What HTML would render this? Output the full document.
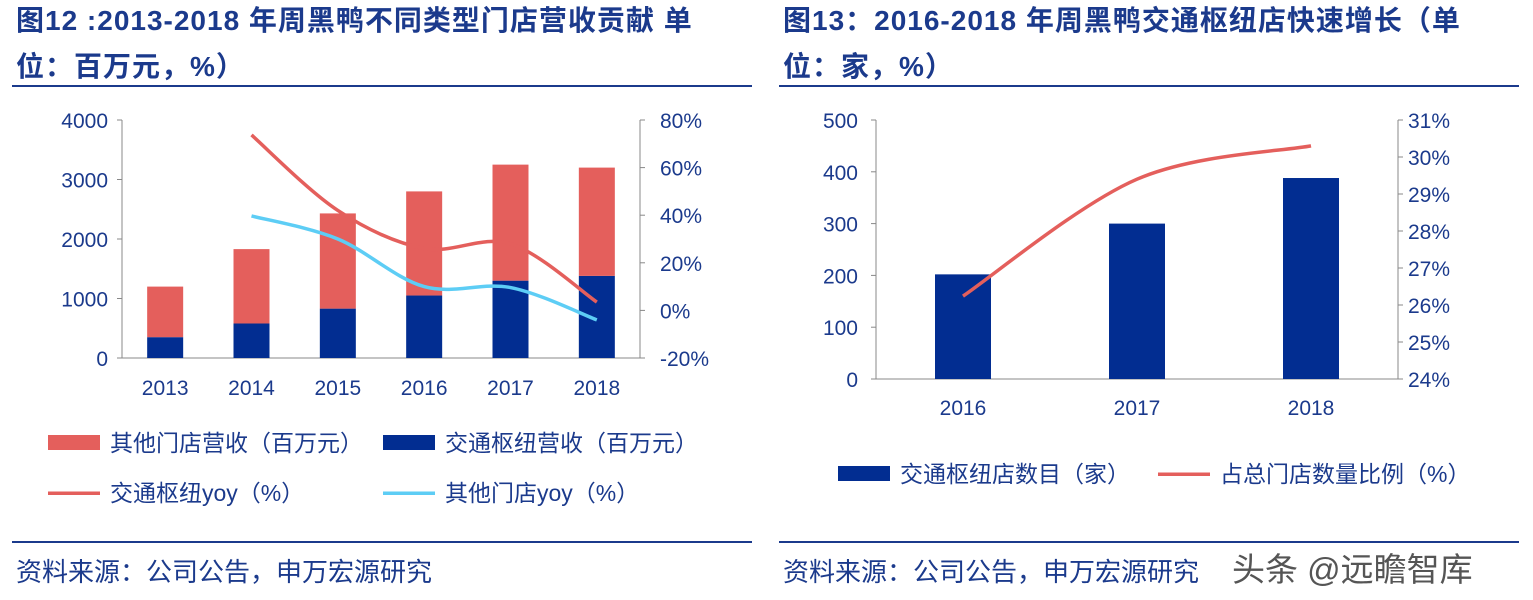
<!DOCTYPE html>
<html><head><meta charset="utf-8"><style>
body{margin:0;width:1533px;height:600px;background:#fff;overflow:hidden;font-family:"Liberation Sans","Noto Sans CJK SC",sans-serif}
svg{position:absolute;left:0;top:0}
</style></head><body>
<svg id="s" width="1533" height="600" font-family="Liberation Sans, Noto Sans CJK SC, sans-serif">
<g fill="#1b3a8c" font-weight="bold" font-size="28" letter-spacing="1">
<text x="16" y="30">图12 :2013-2018 年周黑鸭不同类型门店营收贡献 单</text>
<text x="16" y="76">位：百万元，%）</text></g>
<g fill="#1b3a8c" font-weight="bold" font-size="28" letter-spacing="1">
<text x="783" y="30">图13：2016-2018 年周黑鸭交通枢纽店快速增长（单</text>
<text x="783" y="76">位：家，%）</text></g>
<rect x="12" y="85" width="740" height="2" fill="#1b3a8c"/>
<rect x="779" y="85" width="740" height="2" fill="#1b3a8c"/>
<rect x="12" y="541" width="740" height="2" fill="#1b3a8c"/>
<rect x="779" y="541" width="740" height="2" fill="#1b3a8c"/>
<text x="16" y="581" font-size="26" fill="#1b3a8c">资料来源：公司公告，申万宏源研究</text>
<text x="783" y="581" font-size="26" fill="#1b3a8c">资料来源：公司公告，申万宏源研究</text>
<text x="1232" y="581" font-size="33" fill="#555">头条 @远瞻智库</text>
<g id="L"></g><g id="R"></g>
</svg>
<script>
const yearsL=['2013','2014','2015','2016','2017','2018'];
const hubRev=[350,580,830,1050,1300,1380];
const otherRev=[850,1250,1600,1750,1950,1820];
const hubYoy=[null,73.7,42,26,28,3.5];
const otherYoy=[null,39.7,30,10,9.6,-4];
const leftTicks=[0,1000,2000,3000,4000];
const leftPctTicks=[-20,0,20,40,60,80];
const yearsR=['2016','2017','2018'];
const hubStores=[202,300,388];
const hubShare=[26.24,29.4,30.3];
const rightTicks=[0,100,200,300,400,500];
const rightPctTicks=[24,25,26,27,28,29,30,31];
const NS='http://www.w3.org/2000/svg',C='#1b3a8c';
function el(p,t,a,txt){const e=document.createElementNS(NS,t);for(const k in a)e.setAttribute(k,a[k]);if(txt!=null)e.textContent=txt;p.appendChild(e);return e;}
function smooth(pts){let d='M'+pts[0][0]+','+pts[0][1];for(let i=0;i<pts.length-1;i++){const p0=pts[i-1]||pts[i],p1=pts[i],p2=pts[i+1],p3=pts[i+2]||p2;d+=` C${p1[0]+(p2[0]-p0[0])/6},${p1[1]+(p2[1]-p0[1])/6} ${p2[0]-(p3[0]-p1[0])/6},${p2[1]-(p3[1]-p1[1])/6} ${p2[0]},${p2[1]}`;}return d;}
const L=document.getElementById('L');
const lx0=122,lx1=640,ly0=358,ly1=120;
const ly=v=>ly0-(v/4000)*(ly0-ly1);
const lp=v=>ly0-((v+20)/100)*(ly0-ly1);
const lxc=i=>lx0+(lx1-lx0)*(i+0.5)/yearsL.length;
el(L,'line',{x1:lx0,y1:ly1,x2:lx0,y2:ly0,stroke:'#888',});
el(L,'line',{x1:lx1,y1:ly1,x2:lx1,y2:ly0,stroke:'#888',});
el(L,'line',{x1:lx0,y1:ly0,x2:lx1,y2:ly0,stroke:'#888',});
leftTicks.forEach(t=>{el(L,'line',{x1:lx0-5,x2:lx0,y1:ly(t),y2:ly(t),stroke:'#888'});const e=el(L,'text',{x:lx0-14,y:ly(t)+8,'text-anchor':'end','font-size':21,fill:C},t);});
leftPctTicks.forEach(t=>{el(L,'line',{x1:lx1,x2:lx1+5,y1:lp(t),y2:lp(t),stroke:'#888'});const e=el(L,'text',{x:lx1+20,y:lp(t)+8,'font-size':21,fill:C},t+'%');});
yearsL.forEach((y,i)=>{const cx=lxc(i),w=36;
const a=el(L,'rect',{x:cx-w/2,y:ly(hubRev[i]),width:w,height:ly0-ly(hubRev[i]),fill:'#022d91'});
const b=el(L,'rect',{x:cx-w/2,y:ly(hubRev[i]+otherRev[i]),width:w,height:ly(hubRev[i])-ly(hubRev[i]+otherRev[i]),fill:'#e45f5c'});
const t=el(L,'text',{x:cx,y:395,'text-anchor':'middle','font-size':21,fill:C},y);});
[[hubYoy,'#e45f5c','line-hub-yoy'],[otherYoy,'#5dcdf5','line-other-yoy']].forEach(([s,c,n])=>{const pts=[];s.forEach((v,i)=>{if(v!=null)pts.push([lxc(i),lp(v)]);});const p=el(L,'path',{d:smooth(pts),fill:'none',stroke:c,'stroke-width':3.5});});
function leg(p,kind,x,y,c,txt,n){const g=el(p,'g',{});if(kind=='box')el(g,'rect',{x:x,y:y-8,width:52,height:15,fill:c});else el(g,'rect',{x:x,y:y-1.5,width:52,height:3.5,fill:c});el(g,'text',{x:x+62,y:y+8,'font-size':23,fill:C},txt);}
leg(L,'box',48,443,'#e45f5c','其他门店营收（百万元）','legend-other-revenue');
leg(L,'box',383,443,'#022d91','交通枢纽营收（百万元）','legend-hub-revenue');
leg(L,'line',48,493,'#e45f5c','交通枢纽yoy（%）','legend-hub-yoy');
leg(L,'line',383,493,'#5dcdf5','其他门店yoy（%）','legend-other-yoy');
const R=document.getElementById('R');
const rx0=876,rx1=1398,ry0=379,ry1=120;
const ry=v=>ry0-(v/500)*(ry0-ry1);
const rp=v=>ry0-((v-24)/7)*(ry0-ry1);
const rxc=i=>rx0+(rx1-rx0)*(i+0.5)/yearsR.length;
el(R,'line',{x1:rx0,y1:ry1,x2:rx0,y2:ry0,stroke:'#888',});
el(R,'line',{x1:rx1,y1:ry1,x2:rx1,y2:ry0,stroke:'#888',});
el(R,'line',{x1:rx0,y1:ry0,x2:rx1,y2:ry0,stroke:'#888',});
rightTicks.forEach(t=>{el(R,'line',{x1:rx0-5,x2:rx0,y1:ry(t),y2:ry(t),stroke:'#888'});const e=el(R,'text',{x:rx0-18,y:ry(t)+8,'text-anchor':'end','font-size':21,fill:C},t);});
rightPctTicks.forEach(t=>{el(R,'line',{x1:rx1,x2:rx1+5,y1:rp(t),y2:rp(t),stroke:'#888'});const e=el(R,'text',{x:rx1+10,y:rp(t)+8,'font-size':21,fill:C},t+'%');});
yearsR.forEach((y,i)=>{const cx=rxc(i),w=56;const b=el(R,'rect',{x:cx-w/2,y:ry(hubStores[i]),width:w,height:ry0-ry(hubStores[i]),fill:'#022d91'});
const t=el(R,'text',{x:cx,y:415,'text-anchor':'middle','font-size':21,fill:C},y);});
{const p=el(R,'path',{d:smooth(hubShare.map((v,i)=>[rxc(i),rp(v)])),fill:'none',stroke:'#e45f5c','stroke-width':3.5});}
leg(R,'box',838,474,'#022d91','交通枢纽店数目（家）','legend-hub-stores');
leg(R,'line',1158,474,'#e45f5c','占总门店数量比例（%）','legend-hub-share');
</script>
</body></html>
